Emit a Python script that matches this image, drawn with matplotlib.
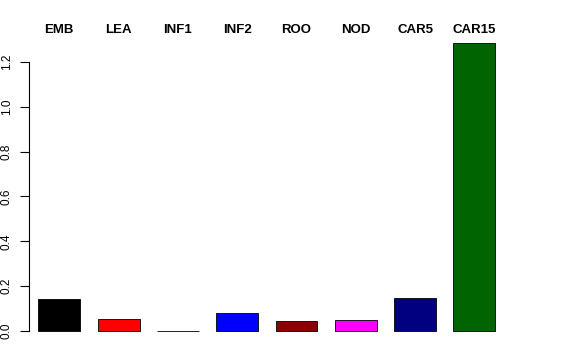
import matplotlib.pyplot as plt
import numpy as np

labels = ["EMB", "LEA", "INF1", "INF2", "ROO", "NOD", "CAR5", "CAR15"]
values = [0.1415, 0.055, 0.002, 0.079, 0.043, 0.049, 0.146, 1.285]
colors = ["black", "red", "green", "blue", "darkred", "magenta", "navy", "darkgreen"]

plt.rcParams["font.family"] = ["Liberation Sans", "DejaVu Sans"]

fig = plt.figure(figsize=(5.76, 3.6), dpi=100)
# plot region in pixels: left 29, right 504, top 31.5, bottom 342.5
ax = fig.add_axes([29 / 576, (360 - 342.5) / 360, 475 / 576, 311 / 360])

x = np.arange(len(labels))
ax.bar(x, values, width=0.708, color=colors, edgecolor="black", linewidth=0.6)

# left edge 9.3px before first bar, spacing 59.3px per unit
left = -0.354 - 9.3 / 59.3
ax.set_xlim(left, left + 475 / 59.3)
ax.set_ylim(-0.0514, 1.336)

for s in ["top", "right", "bottom"]:
    ax.spines[s].set_visible(False)
ax.spines["left"].set_bounds(0, 1.2)
ax.spines["left"].set_linewidth(0.8)
ax.set_xticks([])
ax.set_yticks([0.0, 0.2, 0.4, 0.6, 0.8, 1.0, 1.2])
ax.set_yticklabels(["0.0", "0.2", "0.4", "0.6", "0.8", "1.0", "1.2"],
                   rotation=90, va="center", fontsize=8.5)
ax.tick_params(axis="y", length=6.2, width=0.8, pad=5.5)

for xi, lab in zip(x, labels):
    ax.text(xi, 1.005, lab, transform=ax.get_xaxis_transform(),
            ha="center", va="center", fontsize=9.5, fontweight="bold",
            clip_on=False)

fig.savefig("out.png", dpi=100)
